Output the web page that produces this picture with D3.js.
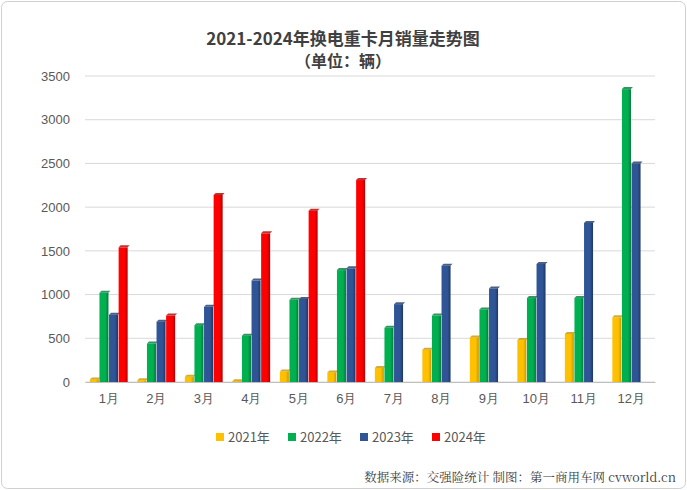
<!DOCTYPE html>
<html><head><meta charset="utf-8">
<script src="https://cdn.jsdelivr.net/npm/d3@7"></script>
<style>body{margin:0;background:#fff;font-family:"Noto Sans CJK SC","Noto Sans",sans-serif}</style>
</head><body><svg id="c" width="687" height="490"></svg>
<script>
const months=["1月","2月","3月","4月","5月","6月","7月","8月","9月","10月","11月","12月"];
const seriesNames=["2021年","2022年","2023年","2024年"];
const s2021=[30,20,60,10,120,110,160,370,510,480,550,740];
const s2022=[1020,440,650,530,940,1280,620,760,830,960,960,3350];
const s2023=[770,690,860,1160,950,1300,890,1330,1070,1350,1820,2500];
const s2024=[1540,760,2140,1700,1960,2310,null,null,null,null,null,null];
const yTicks=[0,500,1000,1500,2000,2500,3000,3500];
const colors=["#FFC000","#00B050","#2F5597","#FF0000"];
const dark=["#C99700","#007A3A","#1F3864","#B00000"];
const data=[s2021,s2022,s2023,s2024];

const svg=d3.select("#c");
svg.append("rect").attr("x",1.5).attr("y",1.5).attr("width",684).attr("height",487).attr("rx",6).attr("fill","#fff").attr("stroke","#d0d0d0");
const m={l:85,r:655,t:76,b:382};
const x=d3.scaleBand().domain(months).range([m.l,m.r]).paddingInner(0.18).paddingOuter(0.09);
const xi=d3.scaleBand().domain(d3.range(4)).range([0,x.bandwidth()]).padding(0.06);
const y=d3.scaleLinear().domain([0,3500]).range([m.b,m.t]);
const defs=svg.append("defs");
colors.forEach((c,i)=>{const g=defs.append("linearGradient").attr("id","g"+i);
 g.append("stop").attr("offset","0%").attr("stop-color",c);
 g.append("stop").attr("offset","65%").attr("stop-color",c);
 g.append("stop").attr("offset","100%").attr("stop-color",dark[i]);});
svg.append("g").selectAll("line").data(yTicks).join("line")
 .attr("x1",m.l).attr("x2",m.r).attr("y1",d=>y(d)).attr("y2",d=>y(d)).attr("stroke","#d9d9d9");
const ya=svg.append("g").attr("transform",`translate(${m.l-12},0)`).call(d3.axisLeft(y).tickValues(yTicks).tickSize(0).tickFormat(d3.format("d")));
ya.select(".domain").remove();
ya.selectAll("text").attr("font-size",13).attr("fill","#595959").attr("font-family","Liberation Sans, sans-serif");
const xa=svg.append("g").attr("transform",`translate(0,${m.b})`).call(d3.axisBottom(x).tickSize(0));
xa.select(".domain").attr("stroke","#bfbfbf");
xa.selectAll("text").attr("font-size",13).attr("fill","#595959").attr("dy","1.4em");
data.forEach((s,i)=>{
 const g=svg.append("g");
 const vals=months.map((mo,j)=>({mo,v:s[j]})).filter(d=>d.v!=null);
 g.selectAll("rect").data(vals).join("rect")
  .attr("x",d=>x(d.mo)+xi(i)).attr("width",xi.bandwidth())
  .attr("y",d=>y(d.v)).attr("height",d=>y(0)-y(d.v)).attr("fill","url(#g"+i+")");
 g.selectAll("path").data(vals).join("path")
  .attr("d",d=>{const x0=x(d.mo)+xi(i),w=xi.bandwidth(),t=y(d.v);return `M${x0},${t}L${x0+2},${t-2}L${x0+w+2},${t-2}L${x0+w},${t}Z`;})
  .attr("fill",dark[i]).attr("opacity",0.8);
});
svg.append("text").attr("x",343).attr("y",45).attr("text-anchor","middle").attr("font-size",17).attr("font-weight","bold").attr("fill","#404040").text("2021-2024年换电重卡月销量走势图");
svg.append("text").attr("x",343).attr("y",67).attr("text-anchor","middle").attr("font-size",16).attr("font-weight","bold").attr("fill","#404040").text("（单位：辆）");
const lg=svg.append("g");
const lx=[216,288,360,432];
seriesNames.forEach((n,i)=>{
 lg.append("rect").attr("x",lx[i]).attr("y",433).attr("width",8).attr("height",8).attr("fill",colors[i]);
 lg.append("text").attr("x",lx[i]+12).attr("y",442).attr("font-size",13).attr("fill","#595959").text(n);
});
svg.append("text").attr("x",676).attr("y",482).attr("text-anchor","end").attr("font-size",12.5).attr("fill","#404040").attr("font-family","Noto Serif CJK SC, serif").text("数据来源：交强险统计  制图：第一商用车网 cvworld.cn");
</script></body></html>
